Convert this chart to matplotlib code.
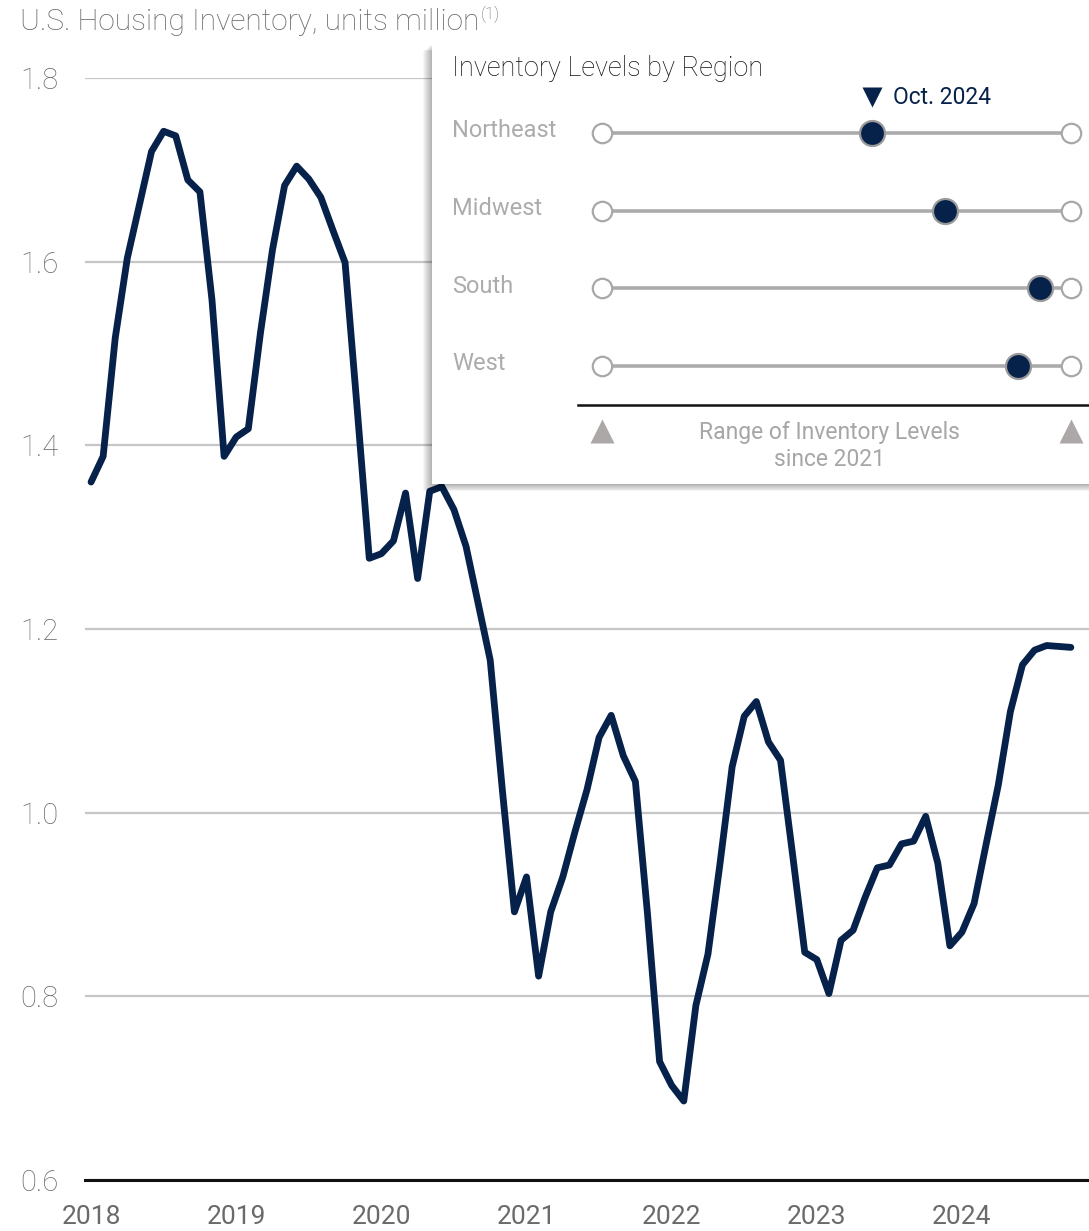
import matplotlib
matplotlib.use("Agg")
import matplotlib.pyplot as plt
from matplotlib.patches import Rectangle
import numpy as np

plt.rcParams['font.family'] = ['Roboto', 'DejaVu Sans']

# monthly inventory, Jan 2018 - Oct 2024 (units million)
inv_2018 = [1.360, 1.388, 1.517, 1.604, 1.662, 1.720, 1.742, 1.737, 1.689, 1.676, 1.558, 1.388]
inv_2019 = [1.409, 1.418, 1.522, 1.613, 1.683, 1.704, 1.690, 1.670, 1.634, 1.599, 1.440, 1.277]
inv_2020 = [1.282, 1.296, 1.348, 1.255, 1.350, 1.355, 1.330, 1.290, 1.228, 1.166, 1.025, 0.892]
inv_2021 = [0.930, 0.822, 0.892, 0.930, 0.979, 1.025, 1.082, 1.106, 1.062, 1.034, 0.890, 0.729]
inv_2022 = [0.703, 0.686, 0.790, 0.846, 0.945, 1.050, 1.105, 1.121, 1.077, 1.057, 0.954, 0.848]
inv_2023 = [0.840, 0.803, 0.861, 0.872, 0.908, 0.940, 0.943, 0.966, 0.969, 0.996, 0.945, 0.855]
inv_2024 = [0.870, 0.901, 0.966, 1.030, 1.110, 1.161, 1.177, 1.182, 1.181, 1.180]
inventory = inv_2018 + inv_2019 + inv_2020 + inv_2021 + inv_2022 + inv_2023 + inv_2024

years = ["2018", "2019", "2020", "2021", "2022", "2023", "2024"]
y_ticks = [0.6, 0.8, 1.0, 1.2, 1.4, 1.6, 1.8]

# regional panel: where Oct. 2024 sits inside the range since 2021 (0 = low, 1 = high)
regions = ["Northeast", "Midwest", "South", "West"]
position_in_range = [0.576, 0.731, 0.934, 0.887]

navy = "#06214a"
W, H = 1089, 1231

fig = plt.figure(figsize=(W / 100, H / 100), dpi=100)
fig.patch.set_facecolor("white")


def fx(px):
    return px / W


def fy(py):
    return 1 - py / H


# main line chart
ax = fig.add_axes([fx(85), fy(1180), fx(1089 - 85), (1180 - 78) / H])
months = np.arange(len(inventory))
ax.plot(months, inventory, color=navy, lw=4.9, solid_joinstyle="round",
        solid_capstyle="round", zorder=3, clip_on=False)
ax.set_xlim(-0.5, 82.5)
ax.set_ylim(0.6, 1.8)
ax.set_yticks(y_ticks)
ax.set_yticklabels([f"{v:.1f}" for v in y_ticks])
ax.set_xticks(np.arange(len(years)) * 12)
ax.set_xticklabels(years)
ax.grid(axis="y", color="#c6c6c6", lw=1.6)
ax.set_axisbelow(True)
for s in ["top", "right", "left"]:
    ax.spines[s].set_visible(False)
ax.spines["bottom"].set_color("#111111")
ax.spines["bottom"].set_linewidth(2.2)
ax.spines["bottom"].set_zorder(4)
ax.tick_params(axis="both", length=0, colors="#6a6a6a", labelsize=19)
ax.tick_params(axis="y", pad=19, labelsize=21)
ax.tick_params(axis="x", pad=18)
for t in ax.get_yticklabels():
    t.set_fontweight("light")

title = fig.text(fx(20), fy(22), "U.S. Housing Inventory, units million", fontsize=21.5,
                 fontweight="light", color="#666666", va="center", ha="left")
sup = fig.text(0, 0, "(1)", fontsize=12, fontweight="light", color="#666666",
               va="top", ha="left")
fig.canvas.draw()
bb = title.get_window_extent()
sup.set_transform(None)
sup.set_position((bb.x1 + 1, bb.y1 + 2))

# drop shadow behind the panel
for i in range(10):
    fig.patches.append(Rectangle((fx(432 - i), fy(484 + i * 0.8)), fx(700), (484 - 44) / H,
                                 transform=fig.transFigure, facecolor="#000000",
                                 alpha=0.035, edgecolor="none", zorder=5))

# panel with regional sliders
left_px, right_px = 602, 1071
span = right_px - left_px
row_px = 77.7
pan = fig.add_axes([fx(432), fy(484), fx(1089 - 432), (484 - 44) / H], zorder=6)
pan.set_facecolor("white")
pan.set_xlim((432 - left_px) / span, (1089 - left_px) / span)
pan.set_ylim((484 - 133) / row_px, (44 - 133) / row_px)
pan.axis("off")
pan.add_patch(Rectangle((0, 0), 1, 1, transform=pan.transAxes, facecolor="white",
                        edgecolor="none", zorder=0))

rows = np.arange(len(regions))
for r, name, pos in zip(rows, regions, position_in_range):
    pan.plot([0, 1], [r, r], color="#ababab", lw=2.6, zorder=1, solid_capstyle="butt")
    pan.plot([0, 1], [r, r], ls="none", marker="o", ms=14, mfc="white", mec="#a8a8a8",
             mew=1.6, zorder=2)
    pan.plot([pos], [r], marker="o", ms=18, mfc=navy, mec="#9a9a9a", mew=1.6, zorder=3)
    pan.text((452 - left_px) / span, r - 0.03, name, fontsize=17, color="#acacac",
             ha="left", va="center")

pan.text((452 - left_px) / span, (68 - 133) / row_px, "Inventory Levels by Region",
         fontsize=19.5, color="#111111", fontweight="light", ha="left", va="center")
pan.plot([position_in_range[0]], [(97 - 133) / row_px], marker="v", ms=14, color=navy,
         mec="none", zorder=3)
pan.text(position_in_range[0] + (893 - 872) / span, (98 - 133) / row_px, "Oct. 2024",
         fontsize=16.5, color=navy, ha="left", va="center")

base_y = (405 - 133) / row_px
pan.plot([(578 - left_px) / span, (1089 - left_px) / span], [base_y, base_y],
         color="#111111", lw=1.8, zorder=2, clip_on=False)
tri_y = (431 - 133) / row_px
pan.plot([0, 1], [tri_y, tri_y], ls="none", marker="^", ms=17, color="#aca8a8",
         mec="none", clip_on=False)
pan.text((829 - left_px) / span, (446 - 133) / row_px, "Range of Inventory Levels\nsince 2021",
         fontsize=16.5, color="#a6a6a6", ha="center", va="center", linespacing=1.2)

fig.savefig("out.png", dpi=100, facecolor="white")
